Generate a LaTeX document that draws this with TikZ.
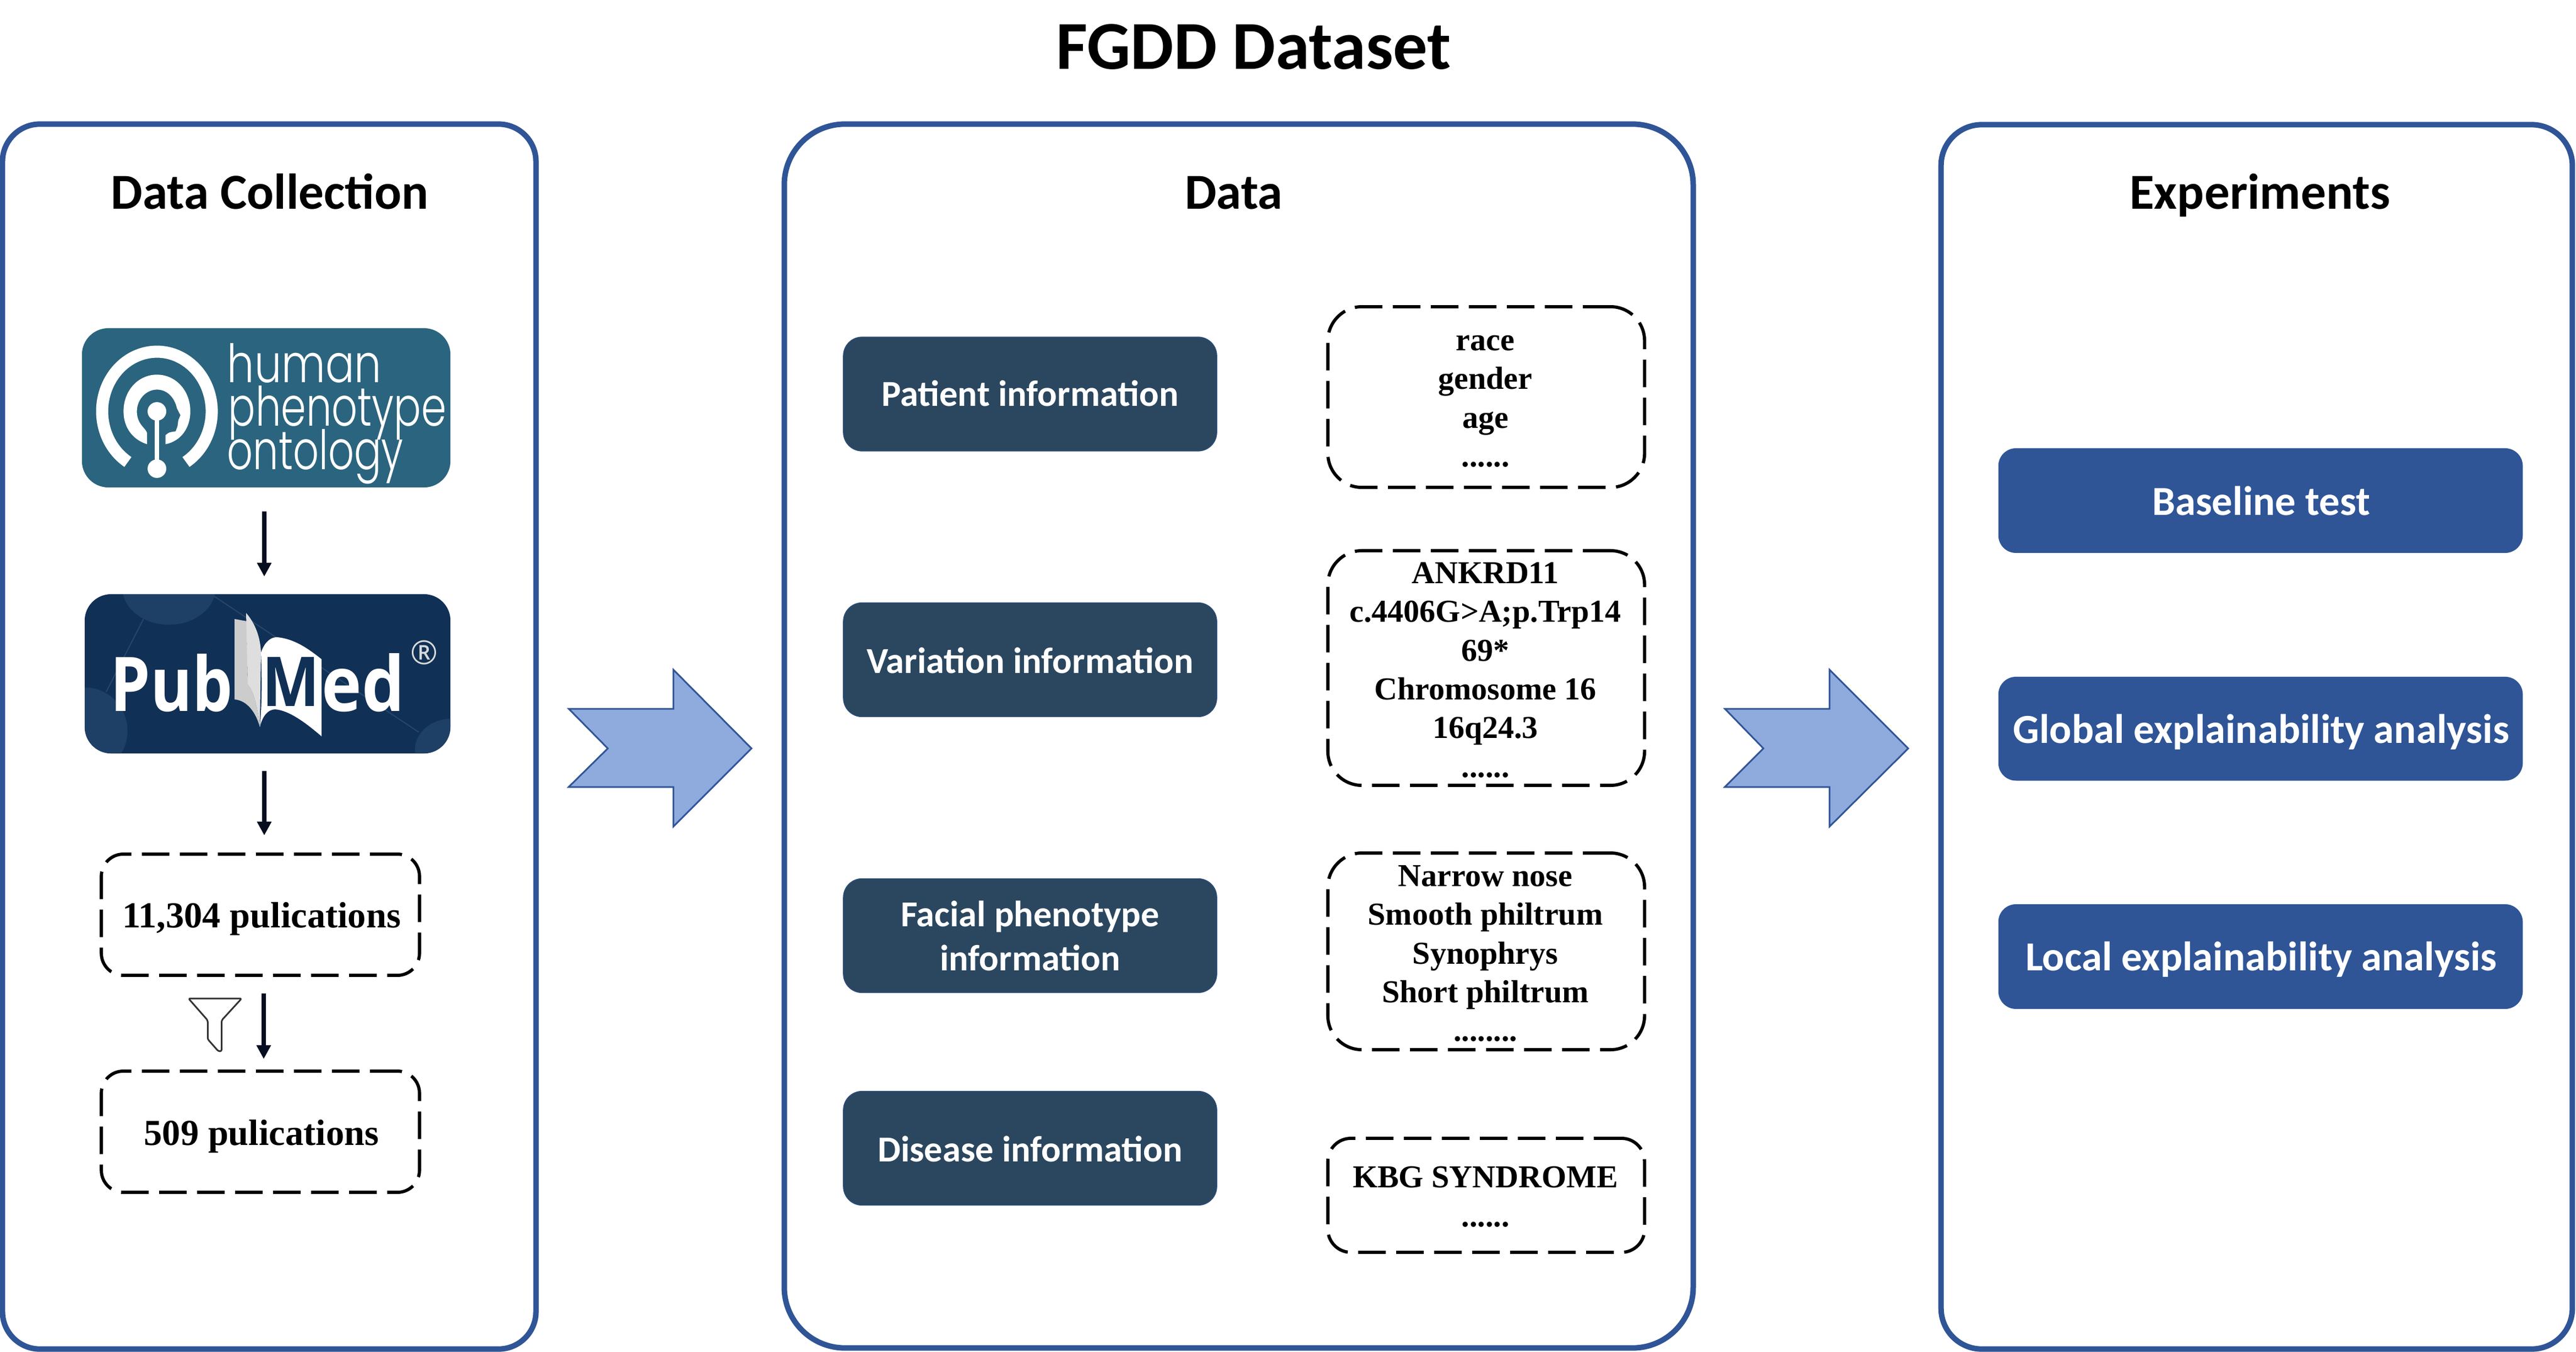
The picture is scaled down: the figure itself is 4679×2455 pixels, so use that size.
\documentclass[tikz,border=0pt]{standalone}
\usepackage{graphicx}
\usepackage{fontspec}
\usetikzlibrary{arrows.meta}
\setmainfont{Liberation Serif}
\newfontfamily\calfont{Carlito}
\newfontfamily\pubfont{Open Sans}
\newfontfamily\hpofont{Poppins Light}
\definecolor{panelblue}{HTML}{2F5597}
\definecolor{slatebox}{HTML}{2B475F}
\definecolor{arrowfill}{HTML}{8FAADC}
\definecolor{hpoteal}{HTML}{2B647E}
\definecolor{pubnavy}{HTML}{103056}
\definecolor{pubcircle}{HTML}{1E3F66}
\definecolor{publine}{HTML}{284668}
\definecolor{darktip}{HTML}{060E20}
\newcommand{\dl}{\rule[-.21cm]{0pt}{.703cm}}
\tikzset{
  panel/.style={draw=panelblue,line width=.1cm,rectangle,inner sep=0pt,outer sep=0pt,fill=white},
  infobox/.style={fill=slatebox,draw=panelblue!60!slatebox,line width=.012cm,rectangle,rounded corners=.34cm,minimum width=6.78cm,minimum height=2.07cm,inner sep=0pt,outer sep=0pt},
  taskbox/.style={fill=panelblue,rectangle,rounded corners=.32cm,minimum width=9.52cm,inner sep=0pt,outer sep=0pt},
  dashbox/.style={draw=black,line width=.058cm,dash pattern=on .5cm off .19cm,rectangle,inner sep=0pt,outer sep=0pt},
  paneltitle/.style={anchor=base,inner sep=0pt,font=\calfont\bfseries\fontsize{26pt}{30pt}\selectfont},
  infotext/.style={anchor=base,inner sep=0pt,text=white,font=\calfont\bfseries\fontsize{18.9pt}{23pt}\selectfont},
  tasktext/.style={anchor=base,inner sep=0pt,text=white,font=\calfont\bfseries\fontsize{21.3pt}{25pt}\selectfont},
  detailtext/.style={anchor=north,inner sep=0pt,align=center,font=\bfseries\fontsize{16.5pt}{.703cm}\selectfont},
  pubtext/.style={anchor=base,inner sep=0pt,font=\bfseries\fontsize{18.9pt}{22pt}\selectfont},
  flow/.style={draw=darktip,line width=.08cm,-{Triangle[width=.25cm,length=.25cm]}},
  bigarrow/.style={fill=arrowfill,draw=panelblue,line width=.03cm,line join=miter},
  hpoword/.style={anchor=base west,inner sep=0pt,text=white},
}
\begin{document}
\begin{tikzpicture}[x=.01cm,y=-.01cm]
\useasboundingbox (0,0) rectangle (4679,2455);

% title
\node[anchor=base,inner sep=0pt,font=\calfont\bfseries\fontsize{35.4pt}{40pt}\selectfont] (title) at (2277,126) {FGDD Dataset};

% panels
\node[panel,rounded corners=.68cm,minimum width=9.685cm,minimum height=22.23cm] (collect) at (489,1337.5) {};
\node[panel,rounded corners=1.1cm,minimum width=16.5cm,minimum height=22.21cm] (data) at (2250,1336.5) {};
\node[panel,rounded corners=.74cm,minimum width=11.46cm,minimum height=22.22cm] (exper) at (4099,1338) {};
\node[paneltitle] (tcollect) at (490,380) {Data Collection};
\node[paneltitle] (tdata) at (2241,380) {Data};
\node[paneltitle] (texper) at (4105,380) {Experiments};

% HPO logo
\node[fill=hpoteal,rectangle,rounded corners=.48cm,minimum width=6.69cm,minimum height=2.89cm,inner sep=0pt,outer sep=0pt] (hpo) at (483.5,740.5) {};
\begin{scope}[shift={(120,560)},x=.004847cm,y=-.00542cm]
  \draw[white,line width=.22cm] (340,345) ++(122:205 and 200) arc[start angle=122,end angle=418,x radius=205,y radius=200];
  \fill[white] (303,455) .. controls (250,440) and (215,400) .. (215,345)
     .. controls (215,275) and (270,222) .. (340,222)
     .. controls (410,222) and (465,275) .. (465,345)
     .. controls (465,400) and (430,445) .. (372,455) -- (372,425)
     .. controls (385,415) .. (410,412) -- (417,395) -- (420,375) -- (428,358) -- (415,335)
     .. controls (405,295) and (375,272) .. (340,272)
     .. controls (300,272) and (265,305) .. (265,345)
     .. controls (265,375) and (280,390) .. (295,405)
     .. controls (303,415) .. (303,425) -- cycle;
  \draw[white,line width=.075cm] (340,345) -- (340,537);
  \fill[white] (340,345) ellipse[x radius=35,y radius=31];
  \fill[white] (340,537) ellipse[x radius=35,y radius=31];
\end{scope}
\node[hpoword] (hpoa) at (412,694) {\resizebox{2.8cm}{.71cm}{\hpofont human}};
\node[hpoword] (hpob) at (414,773) {\resizebox{3.96cm}{.73cm}{\hpofont phenotype}};
\node[hpoword] (hpoc) at (412,852) {\resizebox{3.2cm}{.73cm}{\hpofont ontology}};

% PubMed logo
\node[fill=pubnavy,rectangle,rounded corners=.48cm,minimum width=6.64cm,minimum height=2.89cm,inner sep=0pt,outer sep=0pt] (pubmed) at (486,1223.5) {};
\begin{scope}
  \clip[rounded corners=.48cm] (154,1079) rectangle (818,1368);
  \begin{scope}[shift={(120,560)},x=.004847cm,y=-.00542cm]
    \fill[pubcircle] (385,935) ellipse[x radius=175,y radius=125];
    \fill[pubcircle] (70,1415) ellipse[x radius=160,y radius=145];
    \fill[pubcircle] (1440,1480) ellipse[x radius=135,y radius=105];
    \draw[publine,line width=.02cm] (555,965) -- (1320,1420);
    \draw[publine,line width=.02cm] (290,1040) -- (150,1285);
  \end{scope}
  \fill[black!20] (426,1124) -- (448,1128) -- (450,1243) .. controls (460,1252) and (468,1285) .. (472,1320)
     .. controls (465,1295) and (450,1272) .. (426,1270) -- cycle;
  \fill[black!13] (447,1113) .. controls (462,1130) and (473,1155) .. (474,1185) -- (472,1320)
     .. controls (468,1285) and (460,1252) .. (450,1243) -- cycle;
  \fill[white] (474,1185) .. controls (481,1165) and (492,1157) .. (503,1157)
     .. controls (535,1160) and (560,1178) .. (584,1197) -- (584,1337)
     .. controls (555,1312) and (525,1290) .. (500,1288)
     .. controls (485,1288) and (476,1303) .. (472,1320)
     .. controls (476,1280) and (476,1230) .. (474,1185) -- cycle;
  \node[anchor=base west,inner sep=0pt,text=white] (pubp) at (200,1291) {\resizebox{2.22cm}{1.04cm}{\pubfont\bfseries Pub}};
  \node[anchor=base west,inner sep=0pt,text=pubnavy] (pubm) at (476,1282) {\resizebox{1.04cm}{.89cm}{\pubfont\bfseries M}};
  \node[anchor=base west,inner sep=0pt,text=white] (pubd) at (584,1291) {\resizebox{1.5cm}{1.05cm}{\pubfont\bfseries ed}};
  \node[inner sep=0pt,text=black!15] (pubr) at (771,1185) {\resizebox{.5cm}{!}{\pubfont ®}};
\end{scope}

% publication boxes
\node[dashbox,rounded corners=.4cm,minimum width=5.775cm,minimum height=2.2cm] (pone) at (473,1661) {};
\node[dashbox,rounded corners=.4cm,minimum width=5.775cm,minimum height=2.2cm] (ptwo) at (473,2055) {};
\node[pubtext] (ponet) at (475,1684) {11,304 pulications};
\node[pubtext] (ptwot) at (475,2079.5) {509 pulications};

% funnel
\begin{scope}[shift={(120,1400)},x=.004847cm,y=-.0051cm]
  \draw[draw=black!80,line width=.03cm,rounded corners=.03cm,line join=round]
    (458,810) -- (657,810) -- (582,888) -- (582,998) -- (570,998) -- (530,955) -- (530,888) -- cycle;
\end{scope}

% connectors, left column
\draw[flow,shorten <=.435cm,shorten >=.32cm] ([xshift=-.035cm]hpo.south) -- ([xshift=-.06cm]pubmed.north);
\draw[flow,shorten <=.32cm,shorten >=.34cm] ([xshift=-.06cm]pubmed.south) -- ([xshift=.07cm]pone.north);
\draw[flow,shorten <=.33cm,shorten >=.22cm] ([xshift=.06cm]pone.south) -- ([xshift=.06cm]ptwo.north);

% big arrows
\draw[bigarrow] (1033,1287) -- (1223,1287) -- (1223,1216) -- (1365,1359) -- (1223,1501) -- (1223,1429) -- (1033,1429) -- (1104,1359) -- cycle;
\draw[bigarrow] (3133,1287) -- (3323,1287) -- (3323,1216) -- (3466,1359) -- (3323,1501) -- (3323,1429) -- (3133,1429) -- (3203,1359) -- cycle;

% data column
\node[infobox] (patient) at (1871,715.5) {};
\node[infobox] (variation) at (1871,1198) {};
\node[infobox] (facial) at (1871,1699) {};
\node[infobox] (disease) at (1871,2085) {};
\node[infotext] (patientt) at (1871,738) {Patient information};
\node[infotext] (variationt) at (1871,1222) {Variation information};
\node[infotext] (facialt) at (1871,1682) {Facial phenotype};
\node[infotext] (facialu) at (1871,1762.5) {information};
\node[infotext] (diseaset) at (1871,2109) {Disease information};

\node[dashbox,rounded corners=.62cm,minimum width=5.75cm,minimum height=3.28cm] (dpatient) at (2699.5,721) {};
\node[dashbox,rounded corners=.62cm,minimum width=5.75cm,minimum height=4.26cm] (dvariation) at (2699.5,1213) {};
\node[dashbox,rounded corners=.62cm,minimum width=5.75cm,minimum height=3.57cm] (dfacial) at (2699.5,1727.5) {};
\node[dashbox,rounded corners=.42cm,minimum width=5.75cm,minimum height=2.07cm] (ddisease) at (2699.5,2170.5) {};

\node[detailtext] (dpatientt) at (2698,586.3) {\dl race\\\dl gender\\\dl age\\\dl ......};
\node[detailtext] (dvariationt) at (2698,1009.4) {\dl ANKRD11\\\dl c.4406G>A;p.Trp14\\\dl 69*\\\dl Chromosome 16\\\dl 16q24.3\\\dl ......};
\node[detailtext] (dfacialt) at (2698,1559.3) {\dl Narrow nose\\\dl Smooth philtrum\\\dl Synophrys\\\dl Short philtrum\\\dl ........};
\node[detailtext] (ddiseaset) at (2698,2106.8) {\dl KBG SYNDROME\\\dl ......};

% experiments column
\node[taskbox,minimum height=1.9cm] (base) at (4106,909) {};
\node[taskbox,minimum height=1.885cm] (global) at (4106,1323.2) {};
\node[taskbox,minimum height=1.9cm] (local) at (4106,1737) {};
\node[tasktext] (baset) at (4107,935) {Baseline test};
\node[tasktext] (globalt) at (4107,1349) {Global explainability analysis};
\node[tasktext] (localt) at (4107,1762) {Local explainability analysis};
\end{tikzpicture}
\end{document}
